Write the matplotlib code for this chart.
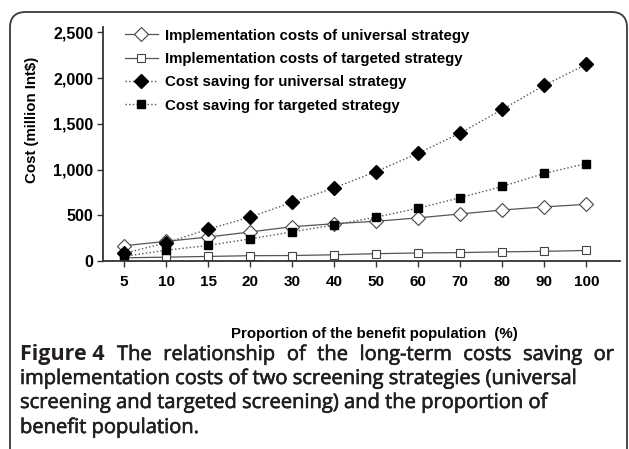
import matplotlib.pyplot as plt
import matplotlib.patheffects as pe
from matplotlib.patches import FancyBboxPatch
from matplotlib.ticker import FuncFormatter

# Proportion of the benefit population (%)
proportions = ["5", "10", "15", "20", "30", "40", "50", "60", "70", "80", "90", "100"]

# Costs in million Int$
impl_universal = [167, 215, 262, 318, 375, 408, 435, 472, 515, 558, 592, 620]
impl_targeted = [35, 42, 50, 58, 60, 68, 80, 88, 92, 100, 106, 115]
saving_universal = [85, 198, 348, 480, 642, 800, 979, 1179, 1400, 1658, 1923, 2152]
saving_targeted = [50, 118, 170, 242, 318, 395, 480, 578, 693, 816, 958, 1066]

labels = [
    "Implementation costs of universal strategy",
    "Implementation costs of targeted strategy",
    "Cost saving for universal strategy",
    "Cost saving for targeted strategy",
]

caption_lines = [
    "The relationship of the long-term costs saving or",
    "implementation costs of two screening strategies (universal",
    "screening and targeted screening) and the proportion of",
    "benefit population.",
]

W, H = 629, 449
fig = plt.figure(figsize=(W / 100, H / 100), dpi=100)

# rounded frame, bottom runs off the picture
frame = FancyBboxPatch((10 / W, -20 / H), 617 / W, 457 / H,
                       boxstyle="round,pad=0,rounding_size=0.025",
                       transform=fig.transFigure, fill=False,
                       edgecolor="#3a3a3a", linewidth=1.3, mutation_aspect=W / H)
fig.patches.append(frame)

ax = fig.add_axes([103 / W, 1 - 261 / H, 517 / W, 234 / H])
x = list(range(len(proportions)))

ax.plot(x, impl_universal, "-", color="#555555", lw=0.9, marker="D", ms=7,
        mfc="white", mec="#444444", mew=0.8, label=labels[0])
ax.plot(x, impl_targeted, "-", color="#555555", lw=0.9, marker="s", ms=6,
        mfc="white", mec="#444444", mew=0.8, label=labels[1])
ax.plot(x, saving_universal, ":", color="#555555", lw=1.0, marker="D", ms=7,
        mfc="black", mec="black", label=labels[2])
ax.plot(x, saving_targeted, ":", color="#555555", lw=1.0, marker="s", ms=6,
        mfc="black", mec="black", label=labels[3])

ax.set_xlim(-0.5, 11.8)
ax.set_ylim(0, 2560)
ax.set_xticks(x)
ax.set_xticklabels(proportions, fontweight="bold", fontsize=11, family="Liberation Sans")
ax.set_yticks([0, 500, 1000, 1500, 2000, 2500])
ax.yaxis.set_major_formatter(FuncFormatter(lambda v, p: f"{int(v):,}"))
for t in ax.get_yticklabels():
    t.set_fontweight("bold")
    t.set_fontsize(11.5)
    t.set_family("Liberation Sans")
ax.tick_params(axis="both", direction="out", length=4, width=1, color="#333333")
ax.tick_params(axis="x", pad=6)
ax.tick_params(axis="y", pad=3)

for s in ["top", "right"]:
    ax.spines[s].set_visible(False)
for s in ["left", "bottom"]:
    ax.spines[s].set_linewidth(1.3)
    ax.spines[s].set_color("#333333")

fig.text(32 / W, 1 - 120 / H, "Cost (million Int$)", rotation=90,
         ha="center", va="center", fontweight="bold", fontsize=10.8,
         family="Liberation Sans")
fig.text(374 / W, 1 - 334 / H, "Proportion of the benefit population  (%)",
         ha="center", va="center", fontweight="bold", fontsize=10.8,
         family="Liberation Sans")

ax.legend(loc="upper left", bbox_to_anchor=(0.028, 1.025), frameon=False,
          handlelength=2.2, handletextpad=0.45, labelspacing=0.62, borderpad=0,
          prop={"family": "Liberation Sans", "weight": "bold", "size": 10.8})

# caption: bold label, medium-weight text (regular + thin stroke)
cap_kw = dict(fontsize=14.5, family="Open Sans", color="#231f20", va="baseline")
medium = [pe.withStroke(linewidth=0.45, foreground="#231f20")]
baselines = [360, 384, 408, 433]
fig.text(20 / W, 1 - baselines[0] / H, "Figure 4", fontweight="bold",
         fontsize=15.5, family="Open Sans", color="#231f20", va="baseline")
fig.canvas.draw()
r = fig.canvas.get_renderer()
x0 = 117

# first line is justified up to the right margin
words = caption_lines[0].split()
wtexts = [fig.text(0, 1 - baselines[0] / H, w, path_effects=medium, **cap_kw) for w in words]
widths = [wt.get_window_extent(r).width for wt in wtexts]
gap = (614 - x0 - sum(widths)) / (len(words) - 1)
pos = x0
for wt, w in zip(wtexts, widths):
    wt.set_x(pos / W)
    pos += w + gap

for line, b in zip(caption_lines[1:], baselines[1:]):
    fig.text(20 / W, 1 - b / H, line, path_effects=medium, **cap_kw)

fig.savefig("out.png", dpi=100)
